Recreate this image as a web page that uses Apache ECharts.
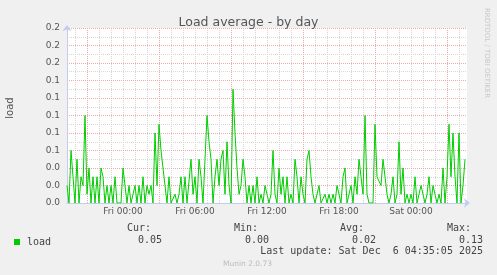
<!DOCTYPE html>
<html><head><meta charset="utf-8">
<script src="https://cdn.jsdelivr.net/npm/echarts@6/dist/echarts.min.js"></script>
<style>html,body{margin:0;padding:0;background:#f0f0f0}#c{width:497px;height:275px}</style>
</head><body><div id="c"></div>
<script>
// time axis expressed in hours since Thu 00:00
const startHour = 19 + 20/60;      // Thu 19:20 (left edge)
const endHour = 52 + 40/60;        // Sat 04:40 (right edge)
const stepHours = 10/60;           // one sample every 10 min
const loadValues = [
  0.02,0,0.06,0.03,0,0.05,0,0.03,0.02,0.10,
  0.01,0.04,0,0.03,0,0.03,0,0.04,0.03,0,
  0.02,0,0.02,0,0.03,0,0,0,0.04,0.04,
  0,0.02,0,0.01,0.02,0,0.02,0,0.03,0,
  0.02,0.01,0.02,0,0.08,0.02,0.09,0.06,0.06,0.02,
  0,0.03,0,0,0.01,0,0.01,0.03,0,0.03,
  0,0,0.05,0.01,0.03,0,0.05,0.03,0,0.05,
  0.10,0.07,0.05,0,0.03,0.05,0.02,0.05,0.06,0.01,
  0.07,0.02,0,0.13,0.08,0.04,0.01,0.02,0.05,0.03,
  0,0.02,0,0.02,0,0.03,0,0.01,0,0.02,
  0.02,0,0.01,0.06,0.01,0,0.04,0.01,0.03,0,
  0.03,0,0.01,0,0.05,0.03,0,0.03,0.01,0,
  0.05,0.06,0.03,0.01,0,0,0.02,0,0,0.01,
  0,0.01,0,0.01,0,0.02,0.01,0,0.03,0.04,
  0,0.01,0.02,0,0.03,0.01,0.05,0.03,0.01,0.10,
  0.01,0,0,0,0.09,0.03,0.03,0.02,0.05,0.05,
  0.01,0,0.01,0.03,0,0.01,0.07,0.01,0.04,0,
  0.01,0,0.01,0,0.03,0,0.01,0.02,0.02,0,
  0.01,0.03,0,0.02,0.01,0,0.01,0,0.04,0,
  0.03,0.09,0.03,0.08,0.03,0,0.08,0,0.02,0.05
];
const xTickHours = [24, 30, 36, 42, 48];
const xTickLabels = ['Fri 00:00', 'Fri 06:00', 'Fri 12:00', 'Fri 18:00', 'Sat 00:00'];
const statHeaders = ['Cur:', 'Min:', 'Avg:', 'Max:'];
const statValues = ['0.05', '0.00', '0.02', '0.13'];
const lastUpdate = 'Last update: Sat Dec  6 04:35:05 2025';

const seriesData = loadValues.map((v, i) => [startHour + i * stepHours, v]);

const pxPerHour = 400 / (endHour - startHour);
const plotLeft = 67, plotTop = 28, plotH = 175;
function gridFor(minH, maxH) {
  return { left: plotLeft + (minH - startHour) * pxPerHour, top: plotTop,
           width: (maxH - minH) * pxPerHour, height: plotH, show: false };
}
const minorCol = '#d6d6d6', majorCol = '#f0a8a8', axisCol = '#c3cbee';
const mono = 'DejaVu Sans Mono', sans = 'DejaVu Sans';

const graphics = [];
const hdrRight = [151, 258, 364, 471];
const valRight = [162, 269, 376, 483];
statHeaders.forEach((t, i) => {
  graphics.push({ type: 'text', x: hdrRight[i], y: 228, style: { text: t, align: 'right', verticalAlign: 'middle', font: '10px ' + mono, fill: '#444' } });
  graphics.push({ type: 'text', x: valRight[i], y: 240, style: { text: statValues[i], align: 'right', verticalAlign: 'middle', font: '10px ' + mono, fill: '#444' } });
});
graphics.push({ type: 'text', x: 483, y: 251, style: { text: lastUpdate, align: 'right', verticalAlign: 'middle', font: '10px ' + mono, fill: '#444' } });
graphics.push({ type: 'text', x: 247.5, y: 264, style: { text: 'Munin 2.0.73', align: 'center', verticalAlign: 'middle', font: '7.5px ' + sans, fill: '#bbb' } });
graphics.push({ type: 'text', x: 487, y: 53, rotation: -Math.PI / 2, style: { text: 'RRDTOOL / TOBI OETIKER', align: 'center', verticalAlign: 'middle', font: '7px ' + sans, fill: '#c8c8c8' } });
graphics.push({ type: 'text', x: 10, y: 108, rotation: Math.PI / 2, style: { text: 'load', align: 'center', verticalAlign: 'middle', font: '10px ' + sans, fill: '#555' } });

const chart = echarts.init(document.getElementById('c'), null, { renderer: 'canvas' });
chart.setOption({
  backgroundColor: '#f0f0f0',
  animation: false,
  title: { text: 'Load average - by day', left: 'center', top: 11,
    textStyle: { fontFamily: sans, fontSize: 12.5, fontWeight: 'normal', color: '#555' } },
  legend: { data: ['load'], left: 14, top: 237, padding: 0, icon: 'rect', itemWidth: 6, itemHeight: 6,
    textStyle: { fontFamily: mono, fontSize: 10, color: '#444', padding: [0, 0, 0, 2] } },
  grid: [
    { left: plotLeft, top: plotTop, width: 400, height: plotH, show: true, backgroundColor: '#fff', borderWidth: 0, z: -1 },
    gridFor(19, 53),
    gridFor(15, 53),
    gridFor(18, 54)
  ],
  xAxis: [
    { gridIndex: 0, type: 'value', min: startHour, max: endHour,
      axisLine: { show: true, lineStyle: { color: axisCol, width: 1 }, symbol: ['none', 'arrow'], symbolSize: [7, 6], symbolOffset: [0, 3] },
      axisTick: { show: false }, axisLabel: { show: false }, splitLine: { show: false }, z: 3 },
    { gridIndex: 1, type: 'value', min: 19, max: 53, interval: 1,
      axisLine: { show: false }, axisTick: { show: false }, axisLabel: { show: false },
      splitLine: { show: true, showMinLine: false, showMaxLine: false, lineStyle: { color: minorCol, type: [1, 1], width: 1 } } },
    { gridIndex: 2, type: 'value', min: 15, max: 53, interval: 6,
      axisLine: { show: false }, axisTick: { show: false }, axisLabel: { show: false },
      splitLine: { show: true, showMinLine: false, showMaxLine: false, lineStyle: { color: majorCol, type: [1, 1], width: 1 } } },
    { gridIndex: 3, type: 'value', min: 18, max: 54, interval: 6,
      axisLine: { show: false }, axisTick: { show: false }, splitLine: { show: false },
      axisLabel: { show: true, margin: 4, fontFamily: sans, fontSize: 9, color: '#555',
        formatter: v => { const k = xTickHours.indexOf(Math.round(v)); return k >= 0 ? xTickLabels[k] : ''; } } }
  ],
  yAxis: [
    { gridIndex: 0, type: 'value', min: 0, max: 0.2, interval: 0.02,
      axisLine: { show: true, lineStyle: { color: axisCol, width: 1 }, symbol: ['none', 'arrow'], symbolSize: [7, 6], symbolOffset: [0, 3] },
      axisTick: { show: false },
      axisLabel: { margin: 7, fontFamily: sans, fontSize: 9, color: '#555', formatter: v => v.toFixed(1) },
      splitLine: { show: true, lineStyle: { color: majorCol, type: [1, 1], width: 1 } },
      minorTick: { show: false, splitNumber: 2 },
      minorSplitLine: { show: true, lineStyle: { color: minorCol, type: [1, 1], width: 1 } }, z: 3 },
    { gridIndex: 1, type: 'value', show: false, min: 0, max: 1 },
    { gridIndex: 2, type: 'value', show: false, min: 0, max: 1 },
    { gridIndex: 3, type: 'value', show: false, min: 0, max: 1 }
  ],
  series: [
    { name: 'load', type: 'line', xAxisIndex: 0, yAxisIndex: 0, data: seriesData,
      showSymbol: false, symbol: 'none', color: '#00cc00',
      lineStyle: { color: '#00cc00', width: 1 }, z: 5 }
  ],
  graphic: graphics
});
</script>
</body></html>
